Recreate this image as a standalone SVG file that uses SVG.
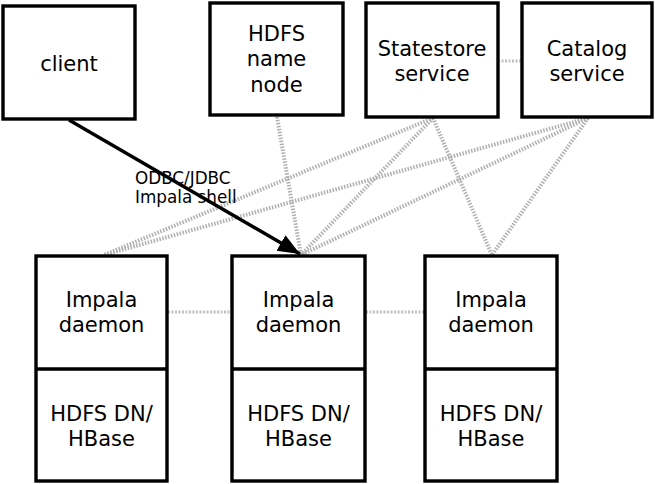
<svg xmlns="http://www.w3.org/2000/svg" width="655" height="484" viewBox="0 0 655 484">
<style>
.box{fill:#fff;stroke:#000;stroke-width:3.4}
.t{font-family:"DejaVu Sans",Verdana,sans-serif;font-size:21px;fill:#000;text-anchor:middle}
.lbl{font-family:"DejaVu Sans",Verdana,sans-serif;font-size:16.8px;fill:#000}
.dot{stroke:#b0b0b0;stroke-width:4;stroke-dasharray:1.5 1.5;fill:none}
.hdot{stroke:#c0c0c0;stroke-width:3;stroke-dasharray:2 1.5;fill:none}
</style>
<defs>
<marker id="ah" markerUnits="userSpaceOnUse" markerWidth="24" markerHeight="20" refX="22" refY="9" orient="auto">
<path d="M0,0 L22,9 L0,18 Z" fill="#000"/>
</marker>
</defs>
<rect width="655" height="484" fill="#fff"/>
<g id="connectors">
<line class="hdot" x1="498" y1="61" x2="522" y2="61"/>
<line class="hdot" x1="168" y1="312" x2="232" y2="312"/>
<line class="hdot" x1="366" y1="312" x2="425" y2="312"/>
<line class="dot" x1="277" y1="117" x2="301" y2="255"/>
<line class="dot" x1="433" y1="118" x2="104" y2="255"/>
<line class="dot" x1="433" y1="118" x2="301" y2="255"/>
<line class="dot" x1="433" y1="118" x2="492" y2="255"/>
<line class="dot" x1="588" y1="118" x2="104" y2="255"/>
<line class="dot" x1="588" y1="118" x2="301" y2="255"/>
<line class="dot" x1="588" y1="118" x2="492" y2="255"/>
<line x1="69" y1="120" x2="300" y2="254" stroke="#000" stroke-width="3.4" marker-end="url(#ah)"/>
<text class="lbl" x="135" y="184">ODBC/JDBC</text>
<text class="lbl" x="135" y="203">Impala shell</text>
</g>
<g id="client">
<rect class="box" x="3" y="6" width="132" height="113"/>
<text class="t" x="69" y="71">client</text>
</g>
<g id="hdfs-name-node">
<rect class="box" x="210" y="3" width="133" height="112"/>
<text class="t" x="276.5" y="41">HDFS</text>
<text class="t" x="276.5" y="66">name</text>
<text class="t" x="276.5" y="92">node</text>
</g>
<g id="statestore">
<rect class="box" x="366" y="3" width="132" height="114"/>
<text class="t" x="432" y="56">Statestore</text>
<text class="t" x="432" y="81">service</text>
</g>
<g id="catalog">
<rect class="box" x="522" y="3" width="130" height="114"/>
<text class="t" x="587" y="56">Catalog</text>
<text class="t" x="587" y="81">service</text>
</g>
<g id="node1">
<rect class="box" x="36" y="256" width="131" height="225"/>
<line x1="36" y1="369" x2="167" y2="369" stroke="#000" stroke-width="3.4"/>
<text class="t" x="101.5" y="307">Impala</text>
<text class="t" x="101.5" y="332">daemon</text>
<text class="t" x="101.5" y="421">HDFS DN/</text>
<text class="t" x="101.5" y="446">HBase</text>
</g>
<g id="node2">
<rect class="box" x="232" y="256" width="133" height="225"/>
<line x1="232" y1="369" x2="365" y2="369" stroke="#000" stroke-width="3.4"/>
<text class="t" x="298.5" y="307">Impala</text>
<text class="t" x="298.5" y="332">daemon</text>
<text class="t" x="298.5" y="421">HDFS DN/</text>
<text class="t" x="298.5" y="446">HBase</text>
</g>
<g id="node3">
<rect class="box" x="425" y="256" width="132" height="225"/>
<line x1="425" y1="369" x2="557" y2="369" stroke="#000" stroke-width="3.4"/>
<text class="t" x="491" y="307">Impala</text>
<text class="t" x="491" y="332">daemon</text>
<text class="t" x="491" y="421">HDFS DN/</text>
<text class="t" x="491" y="446">HBase</text>
</g>
</svg>
